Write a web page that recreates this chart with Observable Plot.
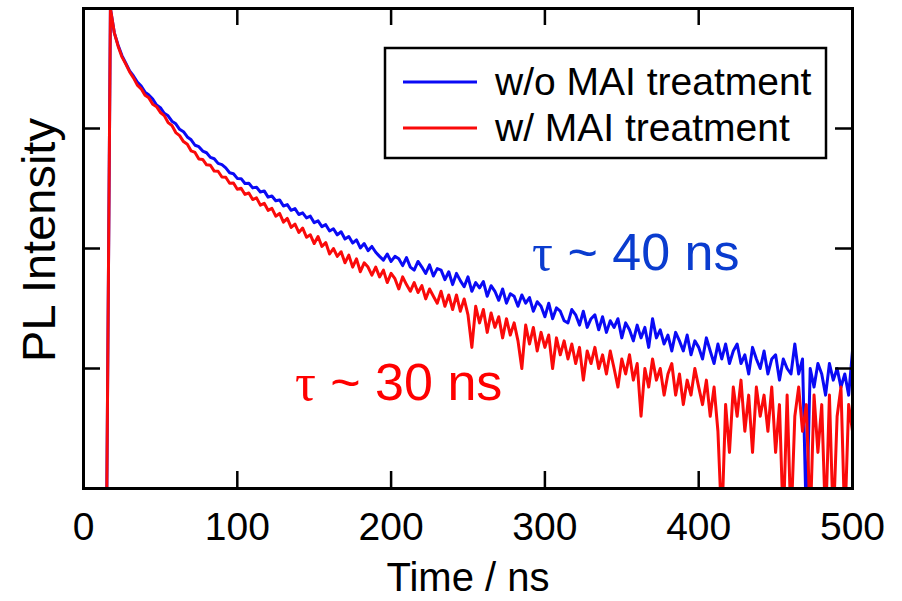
<!DOCTYPE html>
<html>
<head>
<meta charset="utf-8">
<script src="https://cdn.jsdelivr.net/npm/d3@7"></script>
<script src="https://cdn.jsdelivr.net/npm/@observablehq/plot@0.6"></script>
<style>
  html, body { margin: 0; padding: 0; background: #fff; }
  #chart { width: 902px; height: 601px; }
</style>
</head>
<body>
<div id="chart"></div>
<script>
// ---- data (time bins of 2.5 ns starting at 15 ns; PL counts) ----
const timeStart = 15;
const timeStep = 2.5;

const blueCounts = [
  0, 10000, 6300, 4950, 4050, 3500, 3020, 2740, 2440, 2260,
  2010, 1900, 1760, 1570, 1490, 1340, 1275, 1150, 1095, 985,
  940, 850, 805, 725, 705, 648, 628, 575, 560, 512,
  500, 470, 428, 420, 384, 382, 348, 350, 320, 324,
  296, 302, 268, 274, 250, 254, 226, 232, 208, 215,
  192, 198, 180, 186, 164, 170, 152, 158, 140, 146,
  130, 138, 120, 126, 111, 118, 101, 110, 96, 104,
  93, 86, 80, 90, 78, 86, 82, 72, 84, 70,
  66, 78, 70, 62, 73, 59, 68, 66, 55, 64,
  50, 62, 54, 48, 58, 44, 52, 47, 53, 40,
  49, 44, 37, 46, 35, 42, 40, 33, 41, 35,
  39, 30, 36, 33, 27, 35, 26, 32, 30, 25,
  24, 31, 28, 23, 30, 22, 26, 28, 21, 27,
  20, 25, 22, 26, 18, 24, 21, 17, 23, 18,
  22, 15, 26, 18, 21, 16, 19, 14, 20, 17,
  14, 19, 13, 17, 15, 12, 18, 14, 11, 16,
  12, 16, 11, 14, 16, 11, 13, 9, 15, 12,
  10, 14, 9, 12, 13, 8, 12, 10, 9, 16,
  9, 12, 0, 10, 7, 11, 9, 6, 11, 8,
  10, 7, 9, 6, 14
];

const redCounts = [
  0, 10000, 6300, 4850, 3950, 3440, 2960, 2640, 2300, 2140,
  1890, 1800, 1590, 1520, 1360, 1280, 1120, 1060, 925, 872,
  778, 738, 650, 632, 556, 552, 498, 494, 442, 440,
  394, 392, 350, 352, 312, 318, 282, 290, 256, 264,
  230, 238, 208, 216, 186, 196, 166, 178, 150, 160,
  136, 148, 124, 130, 110, 126, 104, 112, 90, 100,
  86, 94, 76, 88, 70, 82, 64, 76, 70, 60,
  70, 58, 66, 52, 62, 56, 46, 58, 50, 44,
  52, 43, 49, 38, 46, 40, 35, 44, 33, 41,
  31, 41, 30, 38, 28, 15, 33, 24, 31, 20,
  29, 22, 27, 18, 26, 19, 24, 17, 10, 23,
  16, 22, 14, 20, 15, 19, 10, 18, 13, 17,
  12, 16, 11, 15, 8, 14, 11, 15, 10, 13,
  9, 14, 10, 7, 12, 9, 13, 8, 11, 4,
  10, 7, 12, 8, 10, 6, 9, 11, 6, 9,
  5, 8, 6, 10, 7, 5, 8, 4, 7, 3,
  0, 5, 2, 7, 4, 8, 3, 6, 2, 7,
  4, 6, 3, 7, 2, 5, 0, 6, 0, 4,
  7, 3, 5, 0, 6, 2, 5, 0, 6, 0,
  4, 7, 0, 5, 3
];

const seriesNames = ["w/o MAI treatment", "w/ MAI treatment"];
const seriesColors = ["#0a0af5", "#fa0a0a"];
const xTicks = [0, 100, 200, 300, 400, 500];
const yTicks = [10, 100, 1000];
const xDomain = [0, 500];
const yDomain = [1, 10000];
const xLabel = "Time / ns";
const yLabel = "PL Intensity";
const annotations = [
  { tau: "τ", rest: " ~ 40 ns", t: 292, v: 65.6, color: "#0a3ccf" },
  { tau: "τ", rest: " ~ 30 ns", t: 137.8, v: 5.4, color: "#ff0000" }
];

// ---- build ----
const toRows = counts => counts.map((v, i) => ({ t: timeStart + timeStep * i, v }));
const blue = toRows(blueCounts);
const red = toRows(redCounts);
const floorZero = d => Math.max(d.v, 0.5); // zero counts drop below the log axis

const FONT = "'Liberation Sans', Arial, Helvetica, sans-serif";
const W = 902, H = 601, ML = 83, MR = 50, MT = 8, MB = 113;
const frameW = W - ML - MR, frameH = H - MT - MB, tickLen = 17;

const plot = Plot.plot({
  width: W, height: H,
  marginLeft: ML, marginRight: MR, marginTop: MT, marginBottom: MB,
  style: { fontFamily: FONT, background: "white", color: "black" },
  x: { domain: xDomain },
  y: { type: "log", domain: yDomain, axis: null },
  marks: [
    Plot.line(blue, { x: "t", y: floorZero, stroke: seriesColors[0], strokeWidth: 3, clip: true, curve: "linear" }),
    Plot.line(red, { x: "t", y: floorZero, stroke: seriesColors[1], strokeWidth: 3, clip: true, curve: "linear" }),
    Plot.tickX(xTicks, { x: d => d, insetTop: frameH - tickLen, stroke: "black", strokeWidth: 2.5 }),
    Plot.tickX(xTicks, { x: d => d, insetBottom: frameH - tickLen, stroke: "black", strokeWidth: 2.5 }),
    Plot.tickY(yTicks, { y: d => d, insetRight: frameW - tickLen, stroke: "black", strokeWidth: 2.5 }),
    Plot.tickY(yTicks, { y: d => d, insetLeft: frameW - tickLen, stroke: "black", strokeWidth: 2.5 }),
    Plot.frame({ stroke: "black", strokeWidth: 3 }),
    Plot.axisX({ ticks: xTicks, tickSize: 0, tickPadding: 24, fontSize: 39, label: null, tickFormat: d => String(d) })
  ]
});

const svg = d3.select(plot);
const sx = plot.scale("x"), sy = plot.scale("y");

// axis titles
svg.append("text")
  .attr("transform", "translate(55,240) rotate(-90)")
  .attr("text-anchor", "middle")
  .attr("font-family", FONT).attr("font-size", 47).attr("fill", "black")
  .text(yLabel);
svg.append("text")
  .attr("x", 468).attr("y", 591)
  .attr("text-anchor", "middle")
  .attr("font-family", FONT).attr("font-size", 40).attr("fill", "black")
  .text(xLabel);

// lifetime annotations
annotations.forEach(a => {
  const txt = svg.append("text")
    .attr("x", sx.apply(a.t)).attr("y", sy.apply(a.v))
    .attr("text-anchor", "start")
    .attr("font-family", FONT).attr("font-size", 52).attr("fill", a.color);
  txt.append("tspan").attr("font-family", "'Liberation Serif', 'Times New Roman', serif").text(a.tau);
  txt.append("tspan").text(a.rest);
});

// legend
const lg = svg.append("g");
lg.append("rect").attr("x", 385).attr("y", 48).attr("width", 441).attr("height", 110)
  .attr("fill", "white").attr("stroke", "black").attr("stroke-width", 2.5);
seriesNames.forEach((name, i) => {
  const yy = 82 + i * 46;
  lg.append("line").attr("x1", 403).attr("x2", 477).attr("y1", yy).attr("y2", yy)
    .attr("stroke", seriesColors[i]).attr("stroke-width", 3);
  lg.append("text").attr("x", 495).attr("y", yy + 13)
    .attr("text-anchor", "start")
    .attr("font-family", FONT).attr("font-size", 39).attr("fill", "black")
    .text(name);
});

document.getElementById("chart").appendChild(plot);
</script>
</body>
</html>
